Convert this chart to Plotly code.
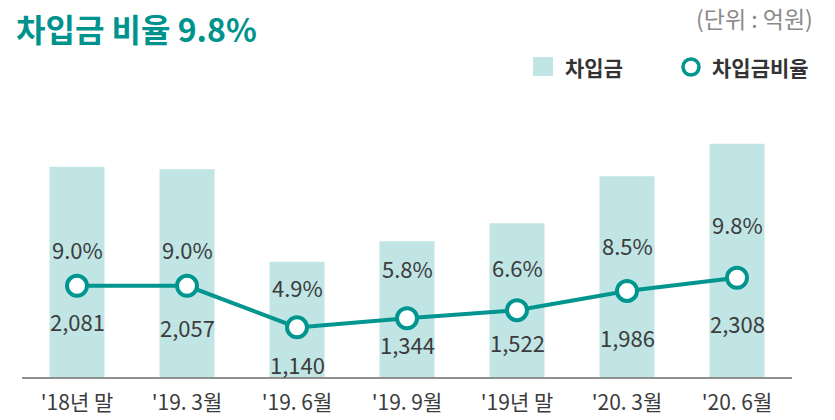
import plotly.graph_objects as go

categories = ["'18년 말", "'19. 3월", "'19. 6월", "'19. 9월", "'19년 말", "'20. 3월", "'20. 6월"]
borrowings = [2081, 2057, 1140, 1344, 1522, 1986, 2308]
ratios = [9.0, 9.0, 4.9, 5.8, 6.6, 8.5, 9.8]

W, H = 835, 420
L, R = 22, 792
T, B = 100, 377

KFONT = "Noto Sans CJK KR"
TEAL = "#00968f"
BARC = "#c0e5e4"
DARK = "#3c3c3c"


def px(xp):
    return (xp - L) / (R - L)


def py(yp):
    return (B - yp) / (B - T)


fig = go.Figure()
fig.add_trace(go.Bar(x=categories, y=borrowings, marker=dict(color=BARC, line=dict(width=0)),
                     showlegend=False, hoverinfo="skip"))
fig.add_trace(go.Scatter(x=categories, y=ratios, yaxis="y2", mode="lines+markers",
                         line=dict(color=TEAL, width=4),
                         marker=dict(size=20, color="white", line=dict(color=TEAL, width=4)),
                         showlegend=False, hoverinfo="skip"))

pct_shift = [37, 37, 40, 50, 43, 46, 54]
val_shift = [35, 41, 37, 26, 32, 46, 45]
annotations = []
for i, (c, r, v) in enumerate(zip(categories, ratios, borrowings)):
    annotations.append(dict(x=c, y=r, xref="x", yref="y2", text=f"{r:.1f}%", showarrow=False,
                            yshift=pct_shift[i], font=dict(family=KFONT, size=22, color=DARK)))
    annotations.append(dict(x=c, y=r, xref="x", yref="y2", text=f"{v:,}", showarrow=False,
                            yshift=-val_shift[i], font=dict(family=KFONT, size=22, color=DARK)))

annotations.append(dict(x=px(14), y=py(28), xref="paper", yref="paper", xanchor="left", yanchor="middle",
                        text="<b>차입금 비율 9.8%</b>", showarrow=False,
                        font=dict(family=KFONT, size=32, color="#00938d")))
annotations.append(dict(x=px(815), y=py(18), xref="paper", yref="paper", xanchor="right", yanchor="middle",
                        text="(단위 : 억원)", showarrow=False,
                        font=dict(family=KFONT, size=23, color="#8a8a8a")))
annotations.append(dict(x=px(563), y=py(67), xref="paper", yref="paper", xanchor="left", yanchor="middle",
                        text="<b>차입금</b>", showarrow=False,
                        font=dict(family=KFONT, size=21, color="#333333")))
annotations.append(dict(x=px(710), y=py(67), xref="paper", yref="paper", xanchor="left", yanchor="middle",
                        text="<b>차입금비율</b>", showarrow=False,
                        font=dict(family=KFONT, size=21, color="#333333")))

shapes = [
    dict(type="rect", xref="paper", yref="paper", x0=px(533), x1=px(553), y0=py(57), y1=py(76),
         fillcolor=BARC, line=dict(width=0)),
    dict(type="circle", xref="paper", yref="paper", x0=px(683), x1=px(699), y0=py(59), y1=py(75),
         fillcolor="white", line=dict(color=TEAL, width=3.5)),
]

fig.update_layout(
    width=W, height=H,
    margin=dict(l=L, r=W - R, t=T, b=H - B, pad=0, autoexpand=False),
    paper_bgcolor="white", plot_bgcolor="white",
    bargap=0.5,
    xaxis=dict(type="category", showline=True, linecolor="#8f8f8f", linewidth=1.5, automargin=False,
               ticks="outside", ticklen=6, tickcolor="rgba(0,0,0,0)", showgrid=False,
               tickfont=dict(family=KFONT, size=21, color=DARK), range=[-0.5, 6.5]),
    yaxis=dict(range=[0, 2742], visible=False, showgrid=False, fixedrange=True, automargin=False),
    yaxis2=dict(range=[0, 27.35], overlaying="y", visible=False, showgrid=False, automargin=False),
    annotations=annotations,
    shapes=shapes,
)

fig.write_html("out.html", config={"displayModeBar": False, "staticPlot": True},
               post_script="document.body.style.margin='0';document.body.style.overflow='hidden';")
